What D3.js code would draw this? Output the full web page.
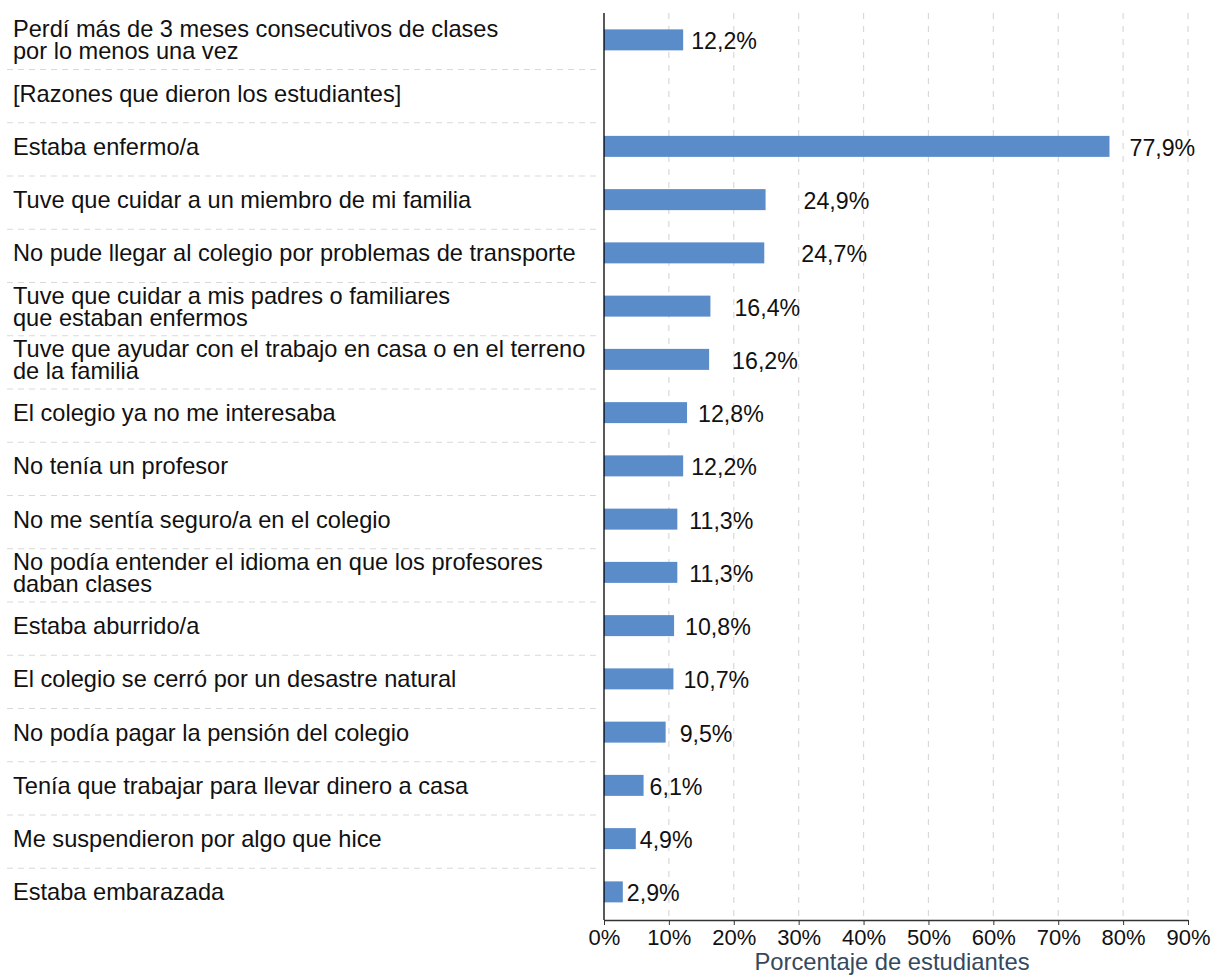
<!DOCTYPE html>
<html><head><meta charset="utf-8">
<script src="https://cdn.jsdelivr.net/npm/d3@7"></script>
<style>body{margin:0;background:#fff;overflow:hidden}svg{font-family:"Liberation Sans",Arial,Helvetica,sans-serif;display:block}</style>
</head><body>
<script>
const categories = [
  ["Perdí más de 3 meses consecutivos de clases","por lo menos una vez"],
  ["[Razones que dieron los estudiantes]"],
  ["Estaba enfermo/a"],
  ["Tuve que cuidar a un miembro de mi familia"],
  ["No pude llegar al colegio por problemas de transporte"],
  ["Tuve que cuidar a mis padres o familiares","que estaban enfermos"],
  ["Tuve que ayudar con el trabajo en casa o en el terreno","de la familia"],
  ["El colegio ya no me interesaba"],
  ["No tenía un profesor"],
  ["No me sentía seguro/a en el colegio"],
  ["No podía entender el idioma en que los profesores","daban clases"],
  ["Estaba aburrido/a"],
  ["El colegio se cerró por un desastre natural"],
  ["No podía pagar la pensión del colegio"],
  ["Tenía que trabajar para llevar dinero a casa"],
  ["Me suspendieron por algo que hice"],
  ["Estaba embarazada"]
];
const values = [12.2, null, 77.9, 24.9, 24.7, 16.4, 16.2, 12.8, 12.2, 11.3, 11.3, 10.8, 10.7, 9.5, 6.1, 4.9, 2.9];
const tickValues = [0,10,20,30,40,50,60,70,80,90];
const axisTitle = "Porcentaje de estudiantes";
// label nudges (px) to the right of the bar end, as placed in the original
const labelNudge = [8, 0, 20, 38, 37, 24, 23, 11, 8, 12, 12, 11, 10, 14, 6, 4, 4];

const W = 1214, H = 975;
const svg = d3.select("body").append("svg").attr("width", W).attr("height", H);
const x0 = 604, x1 = 1188, plotTop = 15.75, plotBottom = 921;
const x = d3.scaleLinear().domain([0, 90]).range([x0, x1]);
const y = d3.scaleBand().domain(d3.range(categories.length)).range([plotTop, plotBottom]);
const barH = 21, shift = -2.5;
const cy = i => y(i) + y.bandwidth()/2 + shift;
const fmt = v => d3.format(".1f")(v).replace(".", ",") + "%";

// gridlines
svg.append("g").selectAll("line").data(tickValues.filter(d => d > 0)).join("line")
  .attr("x1", d => x(d)).attr("x2", d => x(d)).attr("y1", 13).attr("y2", 920)
  .attr("stroke", "#d9d9d9").attr("stroke-width", 1.2).attr("stroke-dasharray", "6,7");

// separators
svg.append("g").selectAll("line").data(d3.range(1, categories.length)).join("line")
  .attr("x1", 7).attr("x2", 600).attr("y1", i => y(i) + 0.5).attr("y2", i => y(i) + 0.5)
  .attr("stroke", "#d9d9d9").attr("stroke-width", 1.2).attr("stroke-dasharray", "6,5");

// bars
svg.append("g").selectAll("rect").data(values.map((v, i) => ({v, i})).filter(d => d.v != null)).join("rect")
  .attr("x", x(0)).attr("y", d => cy(d.i) - barH/2)
  .attr("width", d => x(d.v) - x(0)).attr("height", barH)
  .attr("fill", "#5b8cca");

// value labels
svg.append("g").selectAll("text").data(values.map((v, i) => ({v, i})).filter(d => d.v != null)).join("text")
  .attr("x", d => x(d.v) + labelNudge[d.i]).attr("y", d => cy(d.i) + 9.5)
  .attr("font-size", 23.2).attr("fill", "#111")
  .text(d => fmt(d.v));

// category labels
const lab = svg.append("g").selectAll("text").data(categories.map((c, i) => ({c, i}))).join("text")
  .attr("x", 13).attr("font-size", 23.6).attr("fill", "#111");
lab.each(function(d) {
  const t = d3.select(this);
  const n = d.c.length, lh = 22;
  d.c.forEach((s, k) => {
    t.append("tspan").attr("x", 13)
      .attr("y", cy(d.i) + 8.5 + (k - (n - 1)/2) * lh)
      .text(s);
  });
});

// y axis line
svg.append("line").attr("x1", x0).attr("x2", x0).attr("y1", 13).attr("y2", 920)
  .attr("stroke", "#000").attr("stroke-width", 1.3);

// x axis
const xa = svg.append("g").attr("transform", "translate(0,920)")
  .call(d3.axisBottom(x).tickValues(tickValues).tickFormat(d => d + "%").tickSize(5).tickSizeOuter(0));
xa.select(".domain").attr("stroke", "#333").attr("stroke-width", 1.3);
xa.selectAll(".tick line").attr("stroke", "#333");
xa.selectAll(".tick text").attr("font-size", 22).attr("fill", "#111")
  .attr("font-family", "'Liberation Sans',Arial,sans-serif").attr("dy", 0).attr("y", 25);

svg.append("text").attr("x", (x0 + x1)/2 - 4).attr("y", 970)
  .attr("text-anchor", "middle")
  .attr("font-size", 23.8).attr("fill", "#34495e").text(axisTitle);
</script>
</body></html>
